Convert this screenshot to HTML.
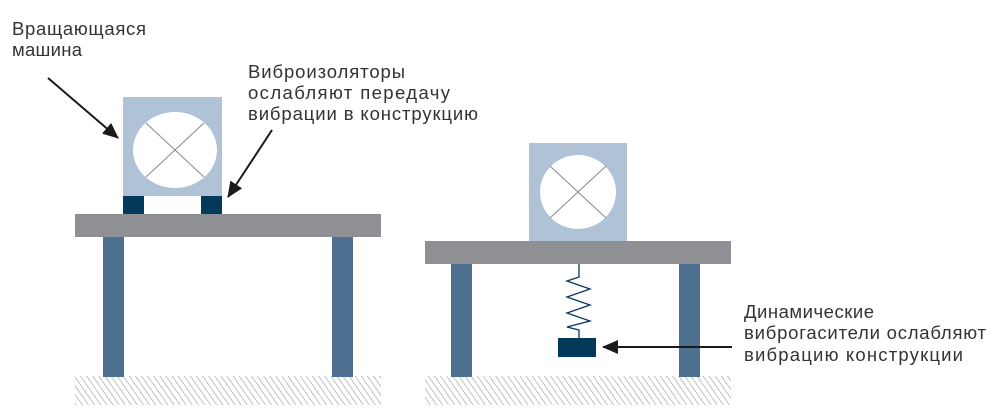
<!DOCTYPE html>
<html><head><meta charset="utf-8"><style>
html,body{margin:0;padding:0;background:#fff;}
svg{display:block;}
text{font-family:"Liberation Sans",sans-serif;font-size:18.5px;fill:#333;}
</style></head><body>
<svg width="1000" height="420" viewBox="0 0 1000 420" xmlns="http://www.w3.org/2000/svg">
<defs>
<pattern id="h" width="5" height="5" patternUnits="userSpaceOnUse" patternTransform="rotate(-35)">
<line x1="0" y1="0" x2="0" y2="5" stroke="#8a8a8a" stroke-width="1"/>
</pattern>
<marker id="a" markerWidth="16" markerHeight="14" refX="15" refY="7" orient="auto" markerUnits="userSpaceOnUse" viewBox="0 0 16 14">
<path d="M0,0 L16,7 L0,14 z" fill="#1a1a1a"/>
</marker>
</defs>
<!-- left -->
<rect x="75" y="376" width="306" height="29" fill="url(#h)"/>
<rect x="103" y="237" width="21" height="140" fill="#4e7090"/>
<rect x="332" y="237" width="21" height="140" fill="#4e7090"/>
<rect x="75" y="214" width="306" height="23" fill="#8f9094"/>
<rect x="123" y="97" width="99" height="99" fill="#b0c2d6"/>
<ellipse cx="175" cy="150" rx="42" ry="38" fill="#fff"/>
<line x1="146" y1="123" x2="204" y2="177" stroke="#888" stroke-width="1"/>
<line x1="204" y1="123" x2="146" y2="177" stroke="#888" stroke-width="1"/>
<rect x="123" y="196" width="21" height="18" fill="#033a5c"/>
<rect x="201" y="196" width="21" height="18" fill="#033a5c"/>
<line x1="48" y1="78" x2="118" y2="138" stroke="#1a1a1a" stroke-width="2" marker-end="url(#a)" />
<line x1="272" y1="130" x2="228" y2="197" stroke="#1a1a1a" stroke-width="2" marker-end="url(#a)"/>
<!-- right -->
<rect x="425" y="376" width="306" height="29" fill="url(#h)"/>
<rect x="451" y="264" width="21" height="113" fill="#4e7090"/>
<rect x="679" y="264" width="21" height="113" fill="#4e7090"/>
<rect x="529" y="143" width="98" height="98" fill="#b0c2d6"/>
<ellipse cx="578" cy="192" rx="38" ry="37" fill="#fff"/>
<line x1="550" y1="166" x2="606" y2="218" stroke="#888" stroke-width="1"/>
<line x1="606" y1="166" x2="550" y2="218" stroke="#888" stroke-width="1"/>
<rect x="425" y="241" width="306" height="23" fill="#8f9094"/>
<polyline points="579,264 579,277 567,281 590,289 567,297 590,305 567,313 590,321 567,327 579,330 579,338" fill="none" stroke="#033a5c" stroke-width="1.3"/>
<rect x="558" y="338" width="38" height="19" fill="#033a5c"/>
<line x1="732" y1="347" x2="603" y2="347" stroke="#1a1a1a" stroke-width="2" marker-end="url(#a)"/>
<!-- text -->
<text x="12" y="35" textLength="134">Вращающаяся</text>
<text x="12" y="56" textLength="70">машина</text>
<text x="248" y="78" textLength="157">Виброизоляторы</text>
<text x="248" y="99" textLength="202">ослабляют передачу</text>
<text x="248" y="120" textLength="230">вибрации в конструкцию</text>
<text x="744" y="318" textLength="130">Динамические</text>
<text x="744" y="339" textLength="242">виброгасители ослабляют</text>
<text x="744" y="361" textLength="219">вибрацию конструкции</text>
</svg>
</body></html>
